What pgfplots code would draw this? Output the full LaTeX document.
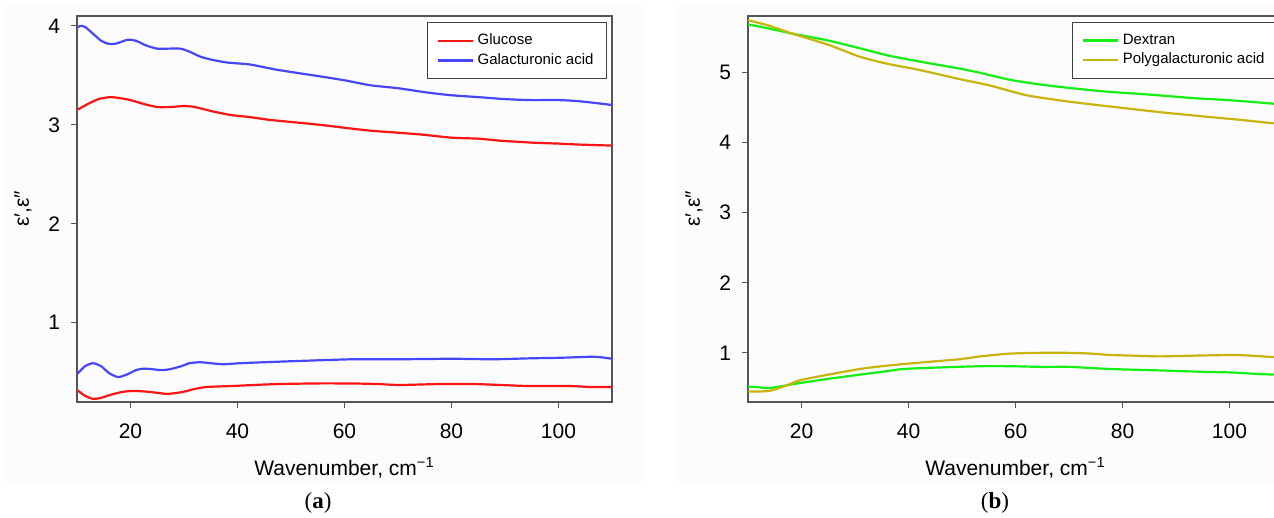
\documentclass[border=0pt]{standalone}
\usepackage{fontspec}
\setmainfont{Liberation Sans}
\newfontfamily\capfont{Liberation Serif}
\usepackage{pgfplots}
\pgfplotsset{compat=1.18}

\definecolor{cRed}{RGB}{255,20,20}
\definecolor{cBlue}{RGB}{70,70,255}
\definecolor{cGreen}{RGB}{20,240,20}
\definecolor{cOlive}{RGB}{200,180,10}
\definecolor{frame}{RGB}{85,85,85}

\pgfplotsset{
  panel/.style={
    anchor=north west, width=267.5pt, height=193pt, scale only axis,
    xmin=10, xmax=110, xtick={20,40,60,80,100},
    xtick pos=lower, ytick pos=left,
    tick align=outside, major tick length=3pt,
    tick style={frame, line width=0.6pt},
    axis line style={frame, line width=0.6pt},
    /pgf/number format/assume math mode=true,
    ticklabel style={font=\fontsize{10.5}{12}\selectfont},
    xticklabel style={yshift=-4.5pt},
    yticklabel style={xshift=-2pt},
    label style={font=\fontsize{10.5}{12}\selectfont},
    xlabel={Wavenumber, cm\textsuperscript{−1}},
    ylabel={ε′,ε″},
    xlabel style={at={(axis description cs:0.5,-0.171)}, anchor=center},
    ylabel style={at={(axis description cs:-0.101,0.5)}, anchor=center},
    legend cell align=left,
    legend image code/.code={\draw[#1] (0pt,0pt) -- (17.5pt,0pt);},
    legend style={at={(1,1)}, anchor=north east, xshift=-2.5pt, yshift=-3pt,
      draw=black!75, line width=0.5pt, fill=white,
      font=\fontsize{7.5}{9}\selectfont,
      inner xsep=4.5pt, inner ysep=4.5pt, row sep=0.5pt,
      nodes={inner xsep=2pt, inner ysep=1.2pt}},
    every axis plot/.append style={line width=1.1pt, smooth, tension=0.4},
  },
}

\begin{document}
\begin{tikzpicture}
\fill[black!1] (2.5pt,-2.5pt) rectangle (321pt,-242pt);
\fill[black!1] (337.5pt,-2.5pt) rectangle (637pt,-242pt);

% ---------- (a) ----------
\begin{axis}[panel, at={(38.5pt,-8pt)}, ymin=0.198, ymax=4.10, ytick={1,2,3,4}]
\addplot[cRed] coordinates {
(10,3.15) (12,3.21) (14,3.26) (16.2,3.28) (18,3.27) (20,3.25) (22.5,3.21)
(25,3.18) (27.5,3.18) (30,3.19) (32,3.18) (35,3.14) (38.6,3.10) (42,3.08)
(46,3.05) (51.7,3.02) (55.4,3.00) (60,2.97) (65,2.94) (70,2.92) (74.7,2.90)
(80,2.87) (85,2.86) (89,2.84) (95,2.82) (100,2.81) (104,2.80) (110,2.79)};
\addlegendentry{Glucose}
\addplot[cBlue] coordinates {
(10,3.98) (10.6,4.00) (11.5,3.99) (13,3.92) (14.5,3.85) (15.8,3.82) (17.2,3.82)
(19.5,3.86) (21,3.85) (23,3.80) (25,3.77) (27,3.77) (29.3,3.77) (31,3.74)
(33,3.69) (35,3.66) (38,3.63) (42.3,3.61) (47,3.56) (51.7,3.52) (55.4,3.49)
(60,3.45) (64.8,3.40) (70,3.37) (75,3.33) (79.7,3.30) (85,3.28) (90,3.26)
(94.7,3.25) (100,3.25) (103.5,3.24) (107,3.22) (110,3.20)};
\addlegendentry{Galacturonic acid}
\addplot[cBlue, forget plot] coordinates {
(10,0.48) (11.5,0.56) (13,0.59) (14.5,0.56) (16,0.49) (17.7,0.45) (19.5,0.48)
(21,0.52) (22.4,0.535) (24,0.53) (25.8,0.52) (27.4,0.53) (29.5,0.56) (31,0.59)
(33,0.60) (35,0.59) (37.3,0.58) (40.5,0.59) (45,0.60) (50,0.61) (55.4,0.62)
(61.6,0.63) (70,0.63) (80.3,0.635) (87.8,0.63) (95,0.64) (100.3,0.645)
(105.9,0.655) (108,0.65) (110,0.635)};
\addplot[cRed, forget plot] coordinates {
(10,0.32) (11.5,0.26) (13,0.23) (14.5,0.24) (16.2,0.27) (18.5,0.30) (20.5,0.31)
(23.6,0.30) (26.8,0.28) (29.8,0.30) (32,0.33) (34.3,0.35) (39.2,0.36) (43,0.37)
(47.9,0.38) (55.4,0.386) (61.6,0.385) (66,0.38) (70.4,0.37) (77.9,0.38)
(84,0.38) (89.1,0.37) (94,0.36) (98.4,0.36) (102,0.36) (105.9,0.35) (110,0.35)};
\end{axis}

% ---------- (b) ----------
\begin{axis}[panel, at={(374pt,-8pt)}, ymin=0.30, ymax=5.80, ytick={1,2,3,4,5}]
\addplot[cGreen] coordinates {
(10,5.68) (14,5.62) (18.2,5.55) (25,5.45) (30.9,5.34) (36,5.24) (42.1,5.15)
(49.6,5.05) (53.4,4.99) (59,4.89) (66,4.81) (75.8,4.73) (85,4.68) (93.2,4.63)
(100,4.60) (108.3,4.55) (110,4.54)};
\addlegendentry{Dextran}
\addplot[cOlive] coordinates {
(10,5.74) (14,5.66) (18.2,5.55) (25,5.39) (30.9,5.22) (36,5.12) (42.1,5.03)
(49.6,4.90) (55.2,4.81) (62.1,4.67) (70,4.58) (77.7,4.51) (87,4.43)
(96.4,4.36) (102,4.32) (108.3,4.27) (110,4.26)};
\addlegendentry{Polygalacturonic acid}
\addplot[cGreen, forget plot] coordinates {
(10,0.52) (12,0.51) (14.1,0.50) (19.7,0.57) (25,0.63) (30.9,0.69) (35,0.73)
(39,0.77) (45,0.79) (53.4,0.81) (59,0.81) (65,0.80) (70.2,0.80) (77.7,0.77)
(87,0.75) (95,0.73) (100.7,0.72) (105,0.70) (108.3,0.69) (110,0.68)};
\addplot[cOlive, forget plot] coordinates {
(10,0.45) (12,0.45) (14.1,0.46) (17,0.53) (19.7,0.61) (25,0.69) (30.9,0.77)
(35,0.81) (39,0.84) (45,0.88) (49.6,0.91) (53.4,0.95) (56,0.97) (59,0.99)
(64,1.00) (70.2,1.00) (74,0.99) (77.7,0.97) (82,0.96) (87,0.95) (93,0.96)
(100.7,0.97) (104,0.96) (108.3,0.94) (110,0.94)};
\end{axis}

\node[font=\capfont\fontsize{11.5}{13}\selectfont] at (159pt,-251.5pt) {(\textbf{a})};
\node[font=\capfont\fontsize{11.5}{13}\selectfont] at (497.5pt,-251.5pt) {(\textbf{b})};

\pgfresetboundingbox
\useasboundingbox (0pt,0pt) rectangle (637pt,-259pt);
\end{tikzpicture}
\end{document}
